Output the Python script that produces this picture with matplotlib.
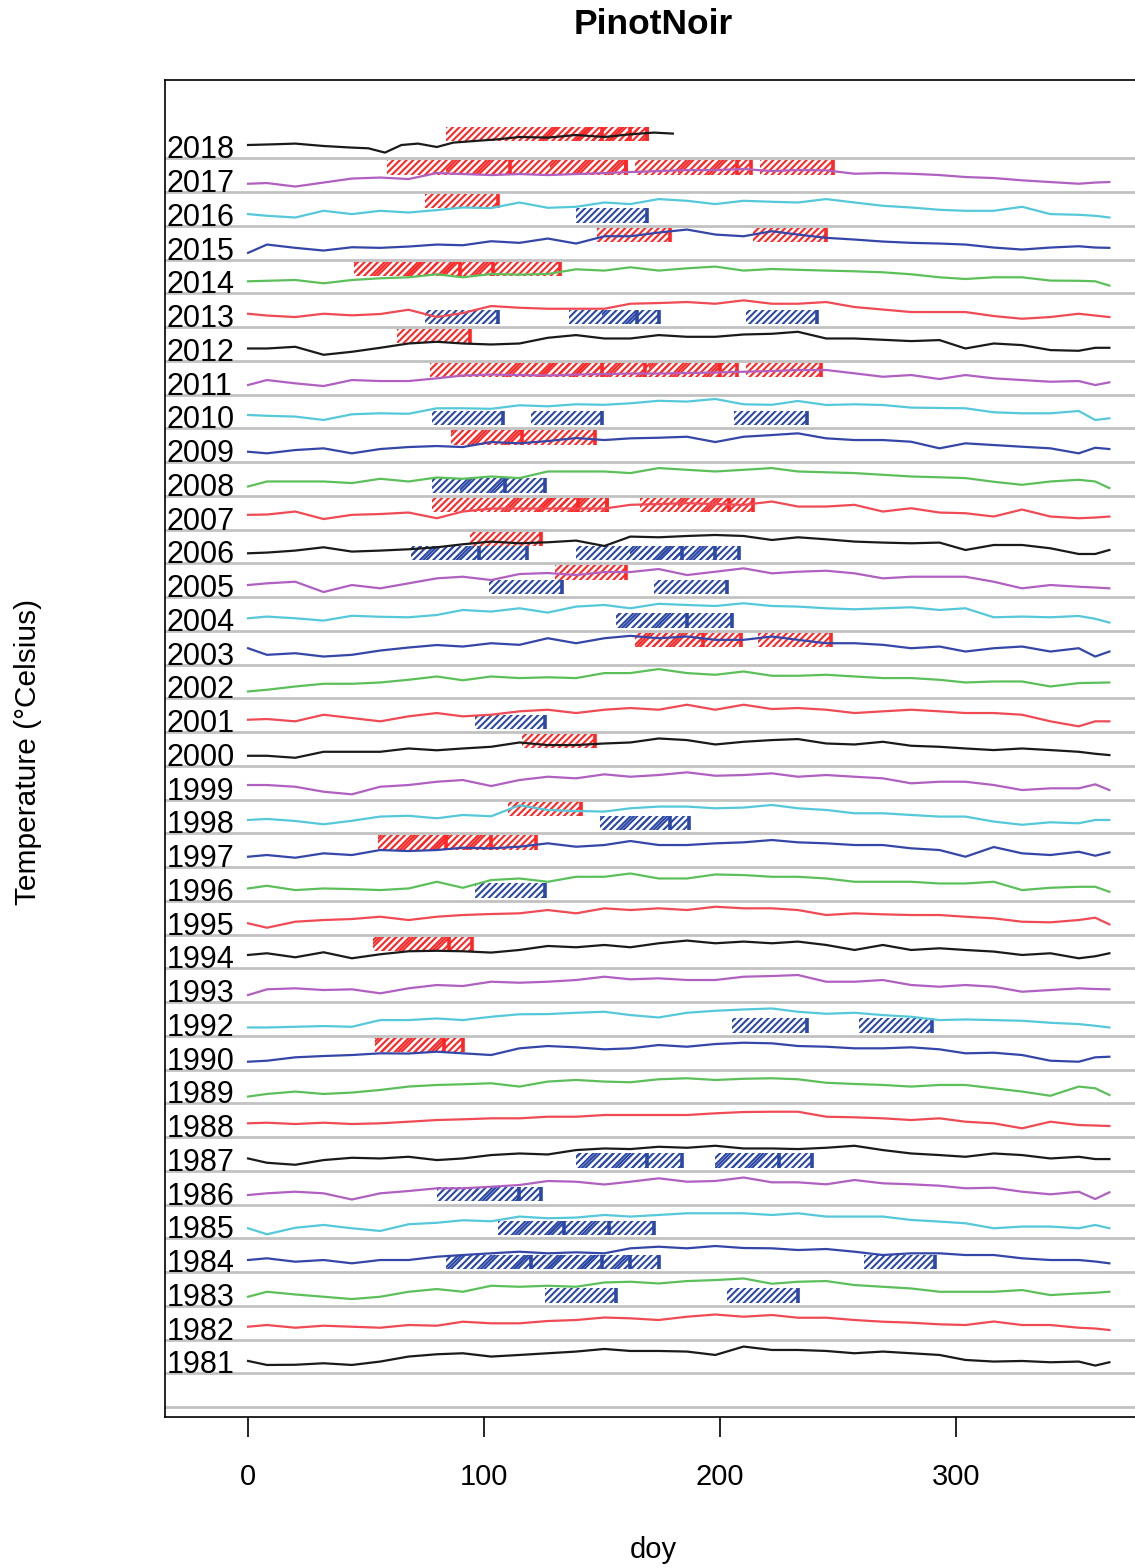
import numpy as np
import matplotlib
matplotlib.use("Agg")
import matplotlib.pyplot as plt
from matplotlib.patches import Rectangle

plt.rcParams['font.family'] = ['Liberation Sans', 'DejaVu Sans']
plt.rcParams['hatch.linewidth'] = 1.5

# years shown (1991 missing in the source)
years = [1981, 1982, 1983, 1984, 1985, 1986, 1987, 1988, 1989, 1990,
         1992, 1993, 1994, 1995, 1996, 1997, 1998, 1999, 2000, 2001,
         2002, 2003, 2004, 2005, 2006, 2007, 2008, 2009, 2010, 2011,
         2012, 2013, 2014, 2015, 2016, 2017, 2018]

# day of year of the readings
doy = [0, 8, 20, 32, 44, 56, 68, 80, 91, 103, 115, 127, 139, 151, 162, 174, 186,
       198, 210, 222, 233, 245, 257, 269, 281, 293, 304, 316, 328, 340, 352, 359, 365]

# daily temperature (deg C)
t1981 = [12.3, 8.3, 8.5, 10, 8.3, 11.7, 16.7, 19, 20, 16.7, 18.3, 20, 21.7, 24.3, 22.3, 22.3, 21.7,
         18.3, 26.7, 23.3, 23.3, 22.3, 20, 21.7, 20, 18.3, 13.3, 11.7, 12.3, 11, 11.7, 7.7, 11]
t1982 = [12.8, 14.5, 11.8, 13.8, 12.8, 11.8, 14.5, 13.8, 17.8, 16.2, 16.2, 18.5, 19.5, 22, 21.2, 19.5, 22.8,
         25, 22.8, 24.5, 21.8, 21.8, 19.5, 17.8, 16.8, 15.2, 14.5, 18, 14.5, 14.5, 11.8, 11, 9.5]
t1983 = [9, 14, 11.3, 9, 6.7, 9, 14, 16.7, 14, 20, 19, 20, 19, 23.3, 24, 22.3, 24.7,
         25.7, 27.3, 22, 24, 24.7, 20.7, 19, 17.3, 14, 14, 14, 15.7, 10.7, 12.3, 13, 14]
t1984 = [12, 13.7, 10.3, 12, 8.7, 12, 12, 15.3, 17, 18.7, 20.3, 18.7, 19.7, 18.7, 23.7, 25.3, 23.7,
         26, 24, 23.7, 22, 23, 20.3, 17, 18.7, 18.7, 17, 17, 13.7, 12, 12, 10.5, 8.7]
t1985 = [10, 4, 10.5, 13.3, 10, 7.3, 14, 15.5, 18, 17, 21.7, 20, 20.7, 23.3, 21.7, 23.3, 25,
         25, 25, 23.3, 25, 21.7, 21.7, 21.7, 18.3, 16.7, 15, 10, 11.7, 11.7, 10, 13.3, 10]
t1986 = [9.5, 11.2, 12.8, 11.2, 5, 11.2, 13.5, 16.2, 16.2, 17.8, 19.5, 23.5, 22.8, 20, 22.8, 26.2, 22.8,
         23.5, 27, 22.2, 22.2, 20.2, 24.5, 21.2, 20.2, 18.8, 16.2, 16.8, 12.8, 10.2, 12.8, 5.5, 12.2]
t1987 = [12.3, 8, 6, 10.7, 13, 12.3, 14, 10.7, 12.3, 15.7, 17.3, 16.3, 20.7, 22.3, 21.7, 24, 23,
         25, 22.3, 22.3, 21.7, 23, 25, 20.7, 17.3, 15.7, 14, 17.3, 15.7, 12.3, 14, 11.7, 11.7]
t1988 = [13.7, 14.3, 13, 14.3, 13, 13.7, 15.3, 17, 17.7, 18.7, 18.7, 20.3, 20.3, 22, 22, 22, 22,
         23.7, 25, 25.3, 25.3, 20.3, 19.7, 18.7, 17, 18.7, 15.3, 13.7, 8.7, 15.3, 12, 11.5, 11]
t1989 = [6.7, 9.3, 11.7, 9.3, 10.7, 13.3, 16.7, 18.3, 19, 20, 16.7, 21.7, 23.3, 21.7, 21, 24, 25,
         23.3, 24.5, 25, 24, 20.5, 19.3, 18.3, 16.7, 18.3, 18.3, 15, 11.7, 7.5, 16.7, 15, 8.3]
t1990 = [7.8, 8.8, 12.2, 13.5, 14.5, 16.2, 16, 17.8, 16.2, 14.5, 21.2, 23.5, 22.2, 20.2, 21.2, 24.5, 22.8,
         25.5, 26.8, 26.2, 23.5, 22.8, 21.2, 21.2, 22.2, 20.2, 16.2, 16.8, 14.5, 8.8, 7.8, 12.2, 12.8]
t1992 = [8.3, 8.3, 9, 9.7, 9, 15.7, 15.7, 17.3, 15.7, 19, 21.5, 21.7, 23, 24, 20.7, 18.3, 23,
         25, 26.3, 27.3, 24, 22, 23, 20.7, 19, 15.7, 16.3, 15.7, 15, 13, 11.7, 10, 8.3]
t1993 = [7, 12.7, 13.7, 12, 12.7, 8.7, 13.7, 17, 16, 20.3, 19.3, 20.3, 22, 25.3, 22.7, 23.7, 22,
         22, 25.3, 26, 27, 20.3, 20.3, 22, 17, 15.3, 17, 15.3, 10.3, 12, 13.7, 13, 12.7]
t1994 = [13.3, 15, 11, 16, 10, 14, 17, 17.5, 17, 15.7, 18.3, 22.3, 21, 23.3, 21, 25, 27.7,
         25, 26.7, 25, 26.7, 23.3, 18.3, 23.3, 18.3, 20, 18.3, 16.7, 13.3, 15, 10, 12, 15]
t1995 = [11.2, 6.8, 12.8, 14.5, 15.5, 17.8, 14.5, 17.8, 19.5, 20.5, 21.2, 24.5, 21.2, 26.2, 24.5, 26.2, 24.5,
         27.8, 26.2, 26.2, 24.5, 19.5, 21.2, 20.2, 19.5, 19.5, 17.8, 16.2, 12.8, 12.2, 14.5, 16.8, 10.2]
t1996 = [12.3, 15, 10.7, 12.3, 11.7, 10.7, 12.3, 19, 13, 20.7, 22.3, 19, 24, 24, 27.3, 22.3, 22.3,
         26.3, 25.7, 24, 24, 22.3, 19, 19, 19, 17.3, 17.3, 19, 10.7, 13, 14, 14, 9]
t1997 = [10.3, 12, 9.3, 13.7, 12, 17, 16, 17, 19.3, 18.7, 20.3, 23.7, 20.3, 22, 26, 22, 22,
         23.7, 24.7, 27, 24.7, 23.7, 22, 22, 18.7, 17, 10.3, 20, 13.7, 12, 15.3, 11.3, 14.7]
t1998 = [13.3, 14.3, 12.3, 9, 12.5, 16.7, 17.5, 15, 18.3, 17, 28, 23.3, 22.3, 21.7, 25, 26.7, 26.7,
         25, 25.7, 28.3, 25, 23.3, 20, 20, 18.3, 16.7, 16.7, 11.7, 8.5, 11, 10, 13.3, 13.3]
t1999 = [14.5, 14.5, 12.8, 7.8, 5.2, 12.8, 14.5, 17.8, 19.5, 13.5, 19.5, 22.8, 21.2, 25.2, 22.8, 24.5, 27.2,
         23.8, 24.5, 26.2, 22.8, 24.5, 22.8, 21.2, 16.2, 17.8, 17.8, 14.5, 9.5, 11.2, 11.2, 15.2, 9.5]
t2000 = [10, 10, 8, 14, 14, 14, 17.3, 15.5, 17.3, 19, 23.3, 20.7, 20.7, 22.3, 23.3, 27.3, 25.7,
         21.3, 24, 25.7, 26.7, 22.3, 21.3, 24, 20, 19, 17.3, 15.7, 17.3, 15.7, 14, 12, 10.7]
t2001 = [12.3, 13, 10.7, 17.3, 14, 10.7, 15.7, 19, 15.7, 17.3, 20.7, 22.3, 19, 22.3, 24, 22.3, 27.3,
         22.3, 27.3, 23, 24, 22.3, 19, 20.7, 22.3, 20.7, 19, 19, 17.3, 10.7, 5.7, 10.7, 10.7]
t2002 = [6.8, 8.5, 11.8, 14.5, 14.5, 15.8, 18.5, 21.8, 18, 21.8, 20.2, 21, 20.2, 25.2, 25.2, 29.2, 25.2,
         23.5, 26.8, 22.5, 22.5, 23.5, 21.8, 20.2, 20.2, 18.5, 15.8, 16.8, 16.8, 11.8, 15.2, 15.5, 15.8]
t2003 = [16.3, 9.7, 11.3, 8, 9.7, 14, 17, 19.5, 18, 21.3, 19.7, 26.3, 21.3, 26.3, 28.7, 26.3, 28,
         24.7, 24.7, 28, 24.7, 21.3, 21.3, 19.7, 16.3, 18, 13, 16.3, 18, 13, 16.3, 8, 13]
t2004 = [12.5, 14.2, 12.5, 10.2, 15, 14, 13.5, 15.8, 20.8, 19.2, 22.5, 18.2, 24.2, 25.8, 22.5, 27, 25.8,
         24.8, 27.5, 24.8, 24.2, 22.5, 21.5, 22.5, 23.5, 20.8, 22.5, 13.5, 14.2, 13.5, 14.8, 12, 8.2]
t2005 = [12, 13.7, 15.3, 5, 12, 8.7, 13.7, 18.7, 20.3, 17, 23, 24, 22, 25, 25, 28, 22,
         25.3, 28.7, 23.7, 25.3, 26.3, 23.7, 18.7, 20.3, 20.3, 20.3, 15.3, 8.7, 12, 10.3, 9.5, 8.7]
t2006 = [10, 10.7, 12.7, 16, 11.7, 12.7, 14, 16, 19, 21.7, 20, 21, 22.7, 17.3, 26.7, 26, 27.3,
         28.3, 27.3, 23.3, 26, 24, 21.7, 20.7, 20, 20.7, 13.3, 18.3, 18.3, 15, 9.3, 9.3, 13.3]
t2007 = [14.7, 15, 18, 10.5, 14.7, 15.5, 17, 11.3, 18, 21, 21, 21, 21, 21, 24.7, 25.5, 26.3,
         25.5, 24.7, 28, 23, 23, 24.7, 18, 21.3, 17, 16.3, 13, 20, 13, 11.3, 12, 13]
t2008 = [9.3, 14.3, 14.3, 14.3, 12.7, 17, 14.3, 18.3, 17, 19.3, 17.7, 24.3, 24.3, 24.3, 22.7, 27.7, 26,
         24.3, 26, 27.7, 24.3, 23.5, 22.7, 21, 19.3, 18.5, 17.7, 14, 11, 14.3, 16, 14.3, 7.7]
t2009 = [10.3, 8.7, 12, 13.7, 8.7, 13, 15, 16, 15, 20, 18.7, 21, 24, 22, 23.7, 24.3, 25.3,
         20, 25.3, 27, 28.7, 23.7, 22, 22, 20.3, 13.7, 18.7, 17, 15.3, 13.7, 8.7, 14.3, 13]
t2010 = [13.3, 12.5, 11.7, 8.3, 14, 15, 14.5, 20, 20, 19.5, 23, 22, 24, 23.5, 25, 27.5, 26.7,
         29.3, 24, 23.5, 27.3, 23.3, 24, 23.3, 20.7, 20.3, 20, 16, 15, 15, 17.3, 8.3, 10]
t2011 = [9.5, 14.5, 11.2, 8.5, 14.5, 13.5, 13.5, 16.2, 19, 20, 19.5, 19, 20, 20.5, 21, 21, 21.5,
         22, 22.8, 23.5, 24.5, 24.5, 21.2, 17.8, 19.5, 15.5, 19.5, 16.2, 14.5, 12.8, 13.5, 9.5, 12.2]
t2012 = [12.3, 12.3, 14, 6, 9, 13, 17.3, 19, 17.3, 16.3, 17.3, 23, 25.7, 22.3, 22.3, 25.7, 24,
         24, 26.3, 27, 29, 22.3, 22.3, 21, 19.7, 20.7, 12.3, 17.3, 15.7, 10.7, 10, 13, 13]
t2013 = [13.3, 11.5, 10, 13.3, 11.7, 13, 17.3, 10, 14, 21, 19.3, 18.3, 18.3, 18.3, 23.3, 24, 25,
         23.3, 26.7, 23.3, 23.3, 25, 20, 17.5, 15, 15, 15, 11, 8.3, 10, 13.3, 11.5, 10]
t2014 = [12, 12.5, 13.3, 10, 13.3, 15, 16, 19, 16, 19.3, 18.7, 19.3, 24, 22.7, 26, 22.7, 25,
         26.7, 22.7, 24.3, 23.5, 22.7, 22, 21, 19, 16, 14.3, 16, 16, 12.7, 12.5, 12, 7.7]
t2015 = [6.7, 15, 11.7, 9, 12.3, 11.7, 13, 15, 14.3, 18.3, 16.7, 21, 16, 23.3, 23.3, 27, 30,
         25, 23.3, 28.3, 25, 21.7, 20, 18, 16.7, 16, 15, 12, 10, 12, 13.3, 12, 11.7]
t2016 = [11.7, 10, 8.3, 15, 11.7, 15, 13.3, 15.7, 18.3, 17.7, 23.3, 18, 19, 23.3, 21.7, 26.7, 25,
         21.7, 25, 24, 23.3, 26.7, 23.3, 20, 18.3, 16, 15, 15, 19, 11.7, 11, 10, 8.3]
t2017 = [8.3, 9, 5.5, 9.5, 13.5, 14.5, 13, 19, 18, 17, 18, 17, 18, 19, 20, 21, 22,
         22, 23, 21, 22, 21.7, 18.3, 19, 18.3, 17, 15, 14, 11.7, 10, 8.3, 9.5, 10]
# 2018 series stops in early summer
doy_2018 = [0, 11, 20, 27, 32, 44, 51, 58, 65, 72, 80, 87, 96, 106, 115, 127, 139, 151, 162, 172, 180]
t2018 = [13.3, 14, 14.7, 13.3, 12.3, 10.7, 10, 5.7, 13.3, 14.7, 11.3, 15.7, 17.3, 19, 21.3, 20.7,
         23.3, 21.3, 24, 25.7, 24.7]

# warm spells (red) and cool spells (blue): year, first day, last day
red_year = [2018, 2018, 2018, 2018,
            2017, 2017, 2017, 2017, 2017, 2017,
            2016, 2015, 2015, 2014, 2014, 2014, 2012,
            2011, 2011, 2011, 2011, 2011, 2009, 2009,
            2007, 2007, 2007, 2007, 2007, 2006, 2005,
            2003, 2003, 2003, 2000, 1998, 1997, 1997, 1997,
            1994, 1994, 1990, 1990]
red_start = [84, 118, 124, 130,
             59, 84, 128, 164, 182, 217,
             75, 148, 214, 45, 45, 62, 63,
             77, 105, 121, 170, 211, 86, 86,
             78, 106, 120, 166, 182, 94, 130,
             164, 164, 216, 116, 110, 55, 55, 70,
             53, 53, 54, 54]
red_end = [169, 150, 162, 169,
           160, 111, 160, 213, 207, 248,
           106, 179, 245, 132, 90, 104, 94,
           207, 150, 168, 200, 243, 147, 116,
           152, 140, 152, 214, 204, 124, 160,
           209, 193, 247, 147, 141, 122, 84, 103,
           95, 85, 91, 83]

blue_year = [2016, 2013, 2013, 2013, 2013, 2010, 2010, 2010, 2008, 2008,
             2006, 2006, 2006, 2006, 2006, 2005, 2005, 2004, 2004, 2001,
             1998, 1998, 1996, 1992, 1992, 1987, 1987, 1987, 1987,
             1986, 1986, 1985, 1985, 1985, 1984, 1984, 1984, 1984, 1984,
             1983, 1983]
blue_start = [139, 75, 136, 150, 211, 78, 120, 206, 78, 90,
              69, 69, 139, 162, 170, 102, 172, 156, 156, 96,
              149, 149, 96, 205, 259, 139, 139, 198, 198,
              80, 95, 106, 106, 125, 84, 84, 108, 122, 261,
              126, 203]
blue_end = [169, 106, 174, 165, 241, 108, 150, 237, 126, 109,
            118, 98, 208, 184, 198, 133, 203, 205, 186, 126,
            187, 179, 126, 237, 290, 184, 169, 239, 225,
            124, 115, 172, 134, 153, 174, 120, 150, 162, 291,
            156, 233]

series = {1981: t1981, 1982: t1982, 1983: t1983, 1984: t1984, 1985: t1985,
          1986: t1986, 1987: t1987, 1988: t1988, 1989: t1989, 1990: t1990,
          1992: t1992, 1993: t1993, 1994: t1994, 1995: t1995, 1996: t1996,
          1997: t1997, 1998: t1998, 1999: t1999, 2000: t2000, 2001: t2001,
          2002: t2002, 2003: t2003, 2004: t2004, 2005: t2005, 2006: t2006,
          2007: t2007, 2008: t2008, 2009: t2009, 2010: t2010, 2011: t2011,
          2012: t2012, 2013: t2013, 2014: t2014, 2015: t2015, 2016: t2016,
          2017: t2017}

palette = ['#1a1a1a', '#f04a55', '#5cc05a', '#3446a8', '#55c8da', '#b060c0']
red_col = '#ff2626'
blue_col = '#2b48a6'
ROW = 33.75  # deg C per row

row_of = {y: k + 1 for k, y in enumerate(years)}

fig = plt.figure(figsize=(11.35, 15.68), dpi=100)
ax = fig.add_axes([165 / 1135, 151 / 1568, 976 / 1135, 1337 / 1568])

for r in range(0, len(years) + 1):
    ax.axhline(r, color='#c2c2c2', lw=2.0, zorder=1)

for k, yr in enumerate(years):
    i = k + 1
    if yr == 2018:
        x, t = doy_2018, t2018
    else:
        x, t = doy, series[yr]
    ax.plot(x, i + np.array(t) / ROW, color=palette[k % 6], lw=1.6, zorder=3)
    ax.text(-34.5, i, str(yr), ha='left', va='baseline', fontsize=22, zorder=4)


def spells(yrs, s0, s1, col, lo, hi):
    drawn = {}
    for yr, a, b in zip(yrs, s0, s1):
        i = row_of[yr]
        prev = drawn.setdefault(yr, [])
        # a box lying over an earlier one only adds a sparse extra layer
        overlap = any(a < pb and b > pa for pa, pb in prev)
        prev.append((a, b))
        hatch = '//' if overlap else '/////'
        ax.add_patch(Rectangle((a, i + lo), b - a, hi - lo, fill=False, hatch=hatch,
                               edgecolor=col, lw=0, zorder=2))
        ax.plot([b, b], [i + lo, i + hi], color=col, lw=2.6, zorder=2,
                solid_capstyle='butt')


spells(red_year, red_start, red_end, red_col, 0.515, 0.94)
spells(blue_year, blue_start, blue_end, blue_col, 0.09, 0.515)

ax.set_xlim(-35.2, 378.4)
ax.set_ylim(-0.296, 39.32)
ax.set_xticks([0, 100, 200, 300])
ax.set_yticks([])
ax.tick_params(axis='x', length=14.4, width=1.2, labelsize=21, pad=19)
for sp in ax.spines.values():
    sp.set_linewidth(1.2)

fig.text(653 / 1135, 1 - 25 / 1568, 'PinotNoir', ha='center', va='center',
         fontsize=25.5, fontweight='bold')
fig.text(653 / 1135, 1 - 1550 / 1568, 'doy', ha='center', va='center', fontsize=21)
fig.text(28 / 1135, 1 - 752 / 1568, 'Temperature (°Celsius)', rotation=90,
         ha='center', va='center', fontsize=21.5)

fig.savefig('out.png', dpi=100)
